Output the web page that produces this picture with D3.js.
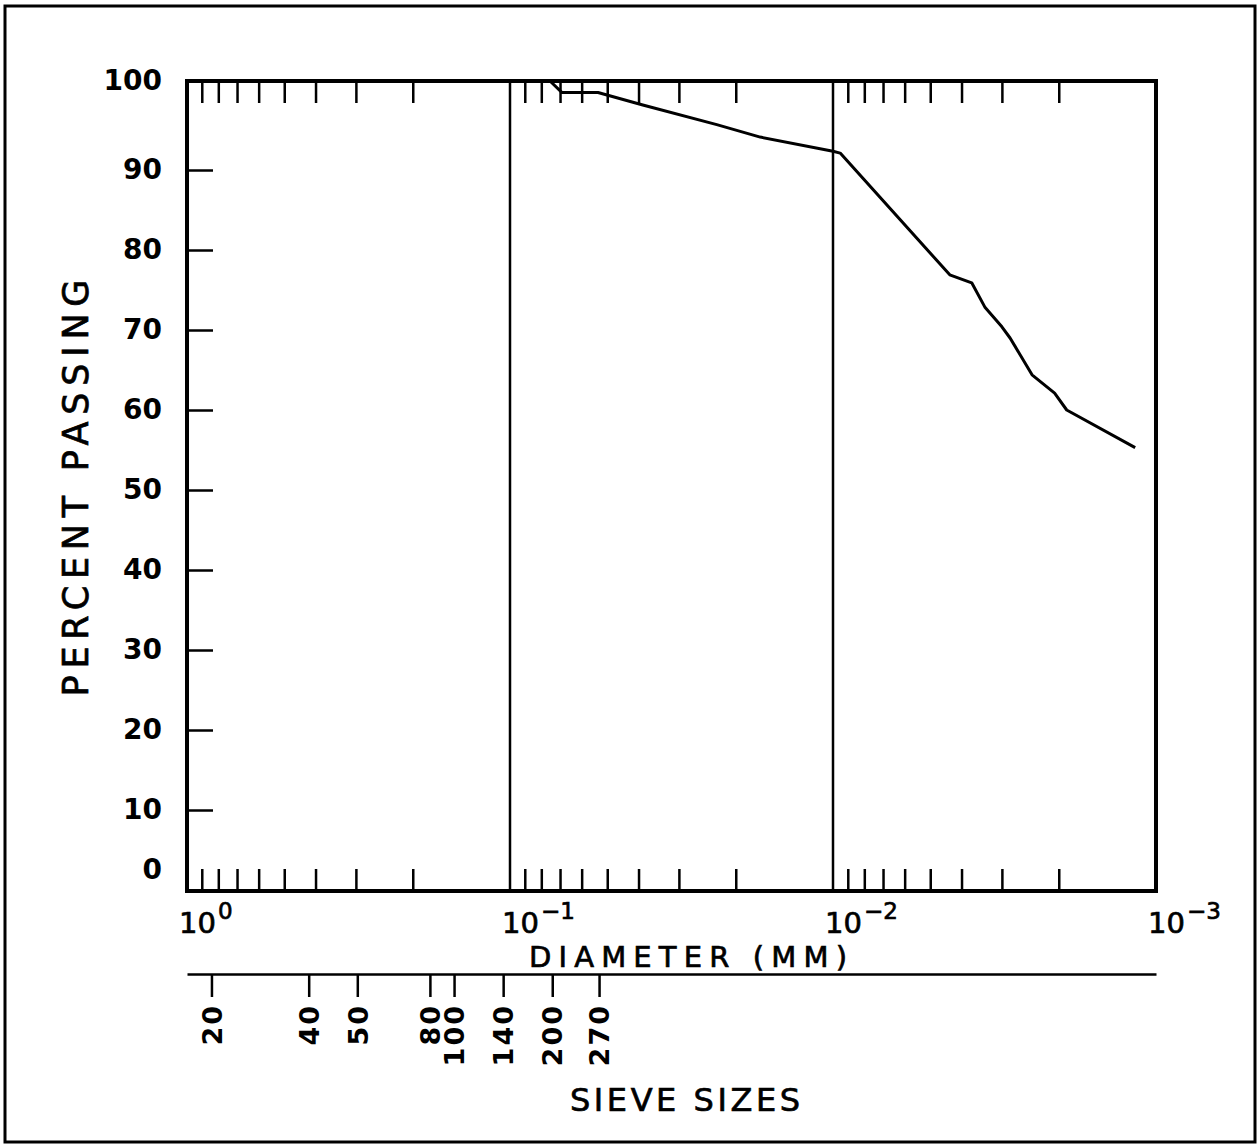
<!DOCTYPE html>
<html>
<head>
<meta charset="utf-8">
<script src="https://cdn.jsdelivr.net/npm/d3@7"></script>
<style>
    body { margin: 0; background: #fff; }
    svg { display: block; font-family: "DejaVu Sans", sans-serif; }
    .frame { fill: none; stroke: #000; }
    .axis .domain { display: none; }
    .axis line { stroke: #000; stroke-width: 2.5; }
    .lettering { fill: #000; stroke: #000; stroke-width: 0.7; }
</style>
</head>
<body>
<svg id="chart"></svg>
<script>
// grain size curve
var diameters = [0.0752, 0.069, 0.0534, 0.0388, 0.0229, 0.0168, 0.0100, 0.0095,
    0.00435, 0.00372, 0.00338, 0.00300, 0.00283, 0.00242, 0.00206, 0.00189, 0.00116];
var percentPassing = [100, 98.7, 98.7, 97.3, 95.1, 93.7, 92.1, 91.9,
    76.9, 75.9, 72.8, 70.4, 69.0, 64.4, 62.1, 60.0, 55.3];

var percentTicks = [0, 10, 20, 30, 40, 50, 60, 70, 80, 90, 100];
var decades = [1, 0.1, 0.01, 0.001];
var decadeExponents = ["0", "\u22121", "\u22122", "\u22123"];
var minorSteps = [9, 8, 7, 6, 5, 4, 3, 2];

var sieveNumbers = ["20", "40", "50", "80", "100", "140", "200", "270"];
var sieveOpenings = [0.84, 0.42, 0.297, 0.177, 0.149, 0.105, 0.074, 0.053];

var width = 1260,
    height = 1146;

var svg = d3.select("#chart")
    .attr("width", width)
    .attr("height", height);

// outer border of the figure
svg.append("rect")
    .attr("class", "frame")
    .attr("x", 5).attr("y", 6)
    .attr("width", 1250).attr("height", 1136)
    .attr("stroke-width", 3);

// diameter runs from 1 mm down to 0.001 mm
var x = d3.scaleLog().domain([1, 0.001]).range([187, 1156]);
// the hand-drawn grid is a bit wider at both ends
var y = d3.scaleLinear().domain([0, 10, 90, 100]).range([891, 810, 170, 81]);

var minorTicks = [];
decades.slice(0, 3).forEach(function (dec) {
    minorSteps.forEach(function (s) { minorTicks.push(s * dec / 10); });
});

// minor ticks along bottom and top
svg.append("g")
    .attr("class", "axis")
    .attr("transform", "translate(0," + y(0) + ")")
    .call(d3.axisBottom(x).tickValues(minorTicks).tickSize(-22).tickFormat(""));
svg.append("g")
    .attr("class", "axis")
    .attr("transform", "translate(0," + y(100) + ")")
    .call(d3.axisTop(x).tickValues(minorTicks).tickSize(-22).tickFormat(""));

// decade lines
svg.append("g").selectAll("line")
    .data(decades.slice(1, 3)).enter()
    .append("line")
    .attr("x1", x).attr("x2", x)
    .attr("y1", y(100)).attr("y2", y(0))
    .attr("stroke", "#000")
    .attr("stroke-width", 2.5);

// percent axis
var yAxis = svg.append("g")
    .attr("class", "axis")
    .attr("transform", "translate(" + x(1) + ",0)")
    .call(d3.axisLeft(y).tickValues(percentTicks).tickSize(-26).tickPadding(25));
yAxis.selectAll("text")
    .attr("font-family", "DejaVu Sans")
    .attr("font-weight", "bold")
    .attr("font-size", 28)
    .attr("fill", "#000");
yAxis.selectAll(".tick")
    .filter(function (d) { return d === 0; })
    .select("text").attr("dy", "-0.45em");

// plot frame
svg.append("rect")
    .attr("class", "frame")
    .attr("x", x(1)).attr("y", y(100))
    .attr("width", x(0.001) - x(1))
    .attr("height", y(0) - y(100))
    .attr("stroke-width", 4);

// the curve
var points = diameters.map(function (d, i) { return [d, percentPassing[i]]; });
var line = d3.line()
    .x(function (d) { return x(d[0]); })
    .y(function (d) { return y(d[1]); });
svg.append("path")
    .datum(points)
    .attr("d", line)
    .attr("fill", "none")
    .attr("stroke", "#000")
    .attr("stroke-width", 3)
    .attr("stroke-linejoin", "round");

// decade labels 10^n
var decLabels = svg.append("g").selectAll("text")
    .data(decades).enter()
    .append("text")
    .attr("class", "lettering")
    .attr("x", function (d) { return x(d) - 8; })
    .attr("y", 933)
    .attr("font-size", 29);
decLabels.append("tspan").text("10");
decLabels.append("tspan")
    .attr("dy", -14)
    .attr("dx", 2)
    .attr("font-size", 23)
    .text(function (d, i) { return decadeExponents[i]; });

// axis titles
svg.append("text")
    .attr("class", "lettering")
    .attr("x", 688).attr("y", 967)
    .attr("text-anchor", "middle")
    .attr("font-size", 29)
    .attr("textLength", 318)
    .attr("lengthAdjust", "spacing")
    .text("DIAMETER (MM)");

svg.append("text")
    .attr("class", "lettering")
    .attr("transform", "translate(88,488) rotate(-90)")
    .attr("text-anchor", "middle")
    .attr("font-size", 35)
    .attr("textLength", 417)
    .attr("lengthAdjust", "spacing")
    .text("PERCENT  PASSING");

// sieve scale under the diameter axis
var sieveAxis = svg.append("g")
    .attr("transform", "translate(0,974)")
    .call(d3.axisBottom(x)
        .tickValues(sieveOpenings)
        .tickSize(23)
        .tickSizeOuter(0)
        .tickFormat(function (d, i) { return sieveNumbers[i]; }));
sieveAxis.select(".domain").attr("stroke", "#000").attr("stroke-width", 2.5);
sieveAxis.selectAll("line").attr("stroke", "#000").attr("stroke-width", 2.5);
sieveAxis.selectAll("text")
    .attr("transform", "rotate(-90)")
    .attr("x", -30)
    .attr("y", 0)
    .attr("dy", "0.36em")
    .attr("text-anchor", "end")
    .attr("font-family", "DejaVu Sans")
    .attr("font-weight", "bold")
    .attr("font-size", 27)
    .attr("letter-spacing", 2)
    .attr("fill", "#000");

svg.append("text")
    .attr("class", "lettering")
    .attr("x", 685).attr("y", 1111)
    .attr("text-anchor", "middle")
    .attr("font-size", 32)
    .attr("textLength", 230)
    .attr("lengthAdjust", "spacing")
    .text("SIEVE  SIZES");
</script>
</body>
</html>
